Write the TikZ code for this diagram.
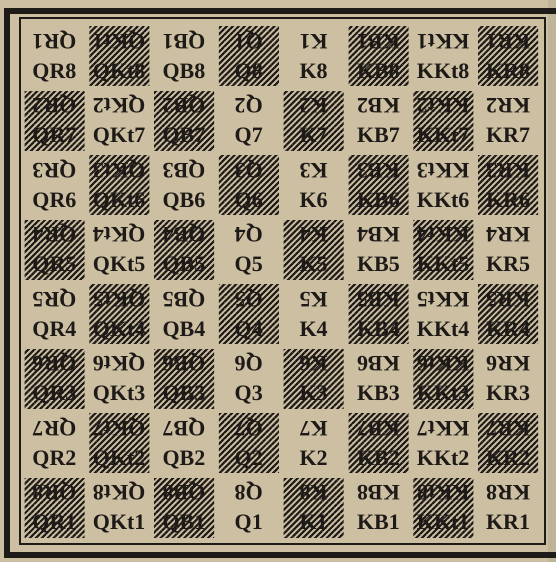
\documentclass[tikz,border=0pt]{standalone}
\usepackage{fontspec}
\setmainfont{Liberation Serif}
\usetikzlibrary{patterns.meta}
\definecolor{paper}{RGB}{204,191,162}
\definecolor{ink}{RGB}{30,26,24}

\begin{document}
\begin{tikzpicture}[x=1pt, y=-1pt,
    darksq/.style={pattern={Lines[angle=45, distance=4.2pt, line width=2.1pt]}, pattern color=ink},
    notation/.style={font=\bfseries\fontsize{22}{22}\selectfont, text=ink, inner sep=0pt, text height=15pt, text depth=0pt}]
    % 背景与边界
    \useasboundingbox (0,0) rectangle (556,562);
    \clip (0,0) rectangle (556,562);
    \fill[paper] (0,0) rectangle (556,562);
    \fill[paper!94!black] (548,0) rectangle (556,562);

    % 外粗框（右边在图外）和内细框
    \draw[ink, line width=6pt] (590,10.5) -- (6.5,10.5) -- (6.5,555) -- (590,555);
    \draw[ink, line width=1.4pt] (20,18) rectangle (545,544);

    % 黑格用斜线填充
    \foreach \c in {0,...,7}
        \foreach \r in {0,...,7} {
            \pgfmathtruncatemacro{\odd}{mod(\c+\r,2)}
            \ifnum\odd=1
                \path[darksq] ({24.5+64.8*\c},{26.5+64.5*\r}) rectangle ++(60,59);
            \fi
        }

    % 每格两个记号：上面倒写的是黑方，下面是白方
    \foreach \f [count=\c from 0] in {QR,QKt,QB,Q,K,KB,KKt,KR}
        \foreach \r in {0,...,7} {
            \pgfmathtruncatemacro{\wr}{8-\r}
            \pgfmathtruncatemacro{\br}{\r+1}
            \node[notation, rotate=180] (b-\c-\r) at ({54.4+64.8*\c},{41.5+64.5*\r}) {\f\br};
            \node[notation] (w-\c-\r) at ({54.4+64.8*\c},{70.5+64.5*\r}) {\f\wr};
        }
\end{tikzpicture}
\end{document}
